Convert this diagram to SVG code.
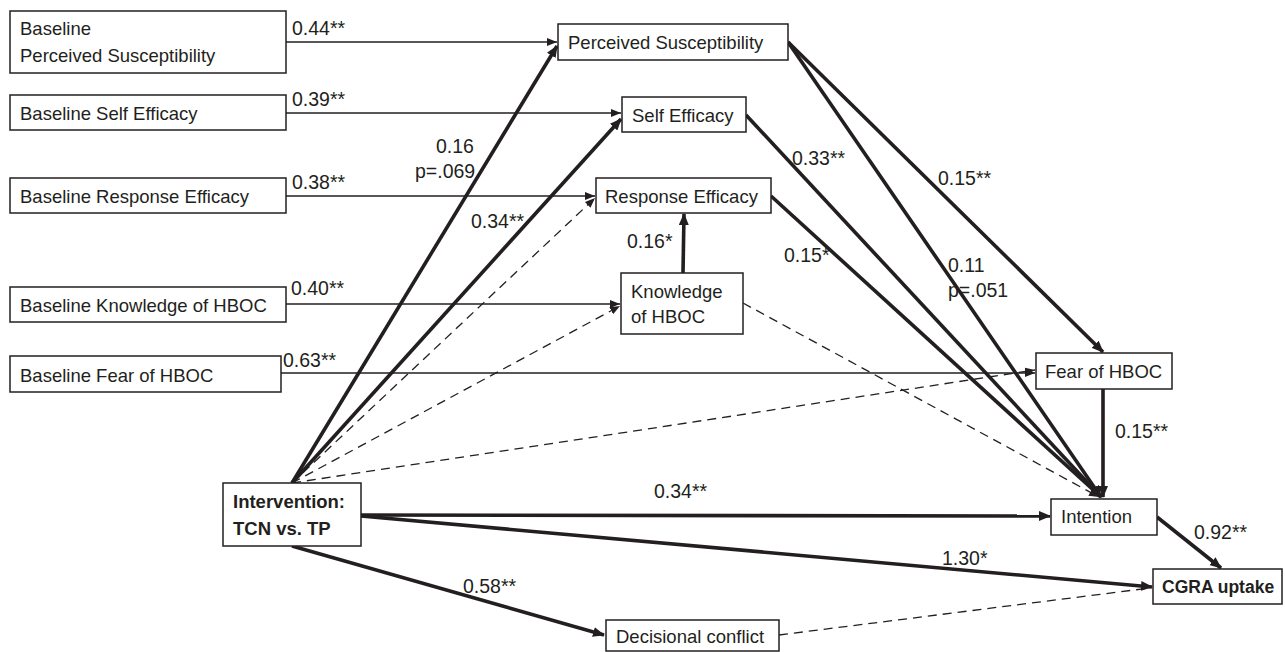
<svg xmlns="http://www.w3.org/2000/svg" width="1285" height="652" viewBox="0 0 1285 652">
<style>
.box{fill:#fff;stroke:#231f20;stroke-width:1.5}
.t{font-family:"Liberation Sans",Arial,sans-serif;font-size:18.5px;fill:#231f20}
.l{font-size:19.5px}
.b{font-weight:bold}
.thin{stroke:#231f20;stroke-width:1.5;fill:none}
.thick{stroke:#231f20;stroke-width:3.6;fill:none}
.dash{stroke:#231f20;stroke-width:1.3;fill:none;stroke-dasharray:9 6}
</style>
<defs>
<marker id="ah" markerUnits="userSpaceOnUse" markerWidth="10" markerHeight="8" refX="10" refY="4" orient="auto"><path d="M0,0 L10,4 L0,8 z" fill="#231f20"/></marker>
<marker id="ahk" markerUnits="userSpaceOnUse" markerWidth="12" markerHeight="10" refX="11" refY="5" orient="auto"><path d="M0,0 L12,5 L0,10 z" fill="#231f20"/></marker>
</defs>
<rect width="1285" height="652" fill="#fff"/>
<g id="connectors">
<line class="thin" x1="286" y1="42" x2="557" y2="42" marker-end="url(#ah)"/>
<line class="thin" x1="286" y1="113" x2="621" y2="113" marker-end="url(#ah)"/>
<line class="thin" x1="286" y1="196" x2="595" y2="196" marker-end="url(#ah)"/>
<line class="thin" x1="286" y1="304" x2="620" y2="304" marker-end="url(#ah)"/>
<line class="thin" x1="281" y1="373" x2="1035" y2="373" marker-end="url(#ah)"/>
<line class="thick" x1="292" y1="483" x2="557" y2="46" marker-end="url(#ahk)"/>
<line class="thick" x1="292" y1="483" x2="621" y2="119" marker-end="url(#ahk)"/>
<line class="dash" x1="292" y1="483" x2="595" y2="198" marker-end="url(#ah)"/>
<line class="dash" x1="292" y1="483" x2="620" y2="306" marker-end="url(#ah)"/>
<line class="dash" x1="292" y1="483" x2="1035" y2="370" marker-end="url(#ah)"/>
<line class="thick" x1="683" y1="273" x2="684" y2="214" marker-end="url(#ahk)"/>
<line class="thick" x1="788" y1="42" x2="1103" y2="352" marker-end="url(#ahk)"/>
<line class="thick" x1="788" y1="42" x2="1101" y2="497" marker-end="url(#ahk)"/>
<line class="thick" x1="746" y1="115" x2="1101" y2="497" marker-end="url(#ahk)"/>
<line class="thick" x1="771" y1="196" x2="1101" y2="497" marker-end="url(#ahk)"/>
<line class="dash" x1="743" y1="303" x2="1099" y2="497" marker-end="url(#ah)"/>
<line class="thick" x1="1103" y1="389" x2="1103" y2="497" marker-end="url(#ahk)"/>
<line class="thick" x1="361" y1="515" x2="1050" y2="516" marker-end="url(#ahk)"/>
<line class="thick" x1="361" y1="516" x2="1152" y2="587" marker-end="url(#ahk)"/>
<line class="thick" x1="292" y1="546" x2="604" y2="635" marker-end="url(#ahk)"/>
<line class="thick" x1="1157" y1="517" x2="1221" y2="568" marker-end="url(#ahk)"/>
<line class="dash" x1="779" y1="635" x2="1150" y2="588"/>
</g>
<g id="labels">
<text class="t l" x="292" y="35">0.44**</text>
<text class="t l" x="292" y="106">0.39**</text>
<text class="t l" x="292" y="189">0.38**</text>
<text class="t l" x="291" y="295">0.40**</text>
<text class="t l" x="283" y="367">0.63**</text>
<text class="t l" x="436" y="153">0.16</text>
<text class="t l" x="415" y="178">p=.069</text>
<text class="t l" x="471" y="228">0.34**</text>
<text class="t l" x="627" y="248">0.16*</text>
<text class="t l" x="792" y="165">0.33**</text>
<text class="t l" x="938" y="185">0.15**</text>
<text class="t l" x="784" y="262">0.15*</text>
<text class="t l" x="948" y="272">0.11</text>
<text class="t l" x="948" y="297">p=.051</text>
<text class="t l" x="1115" y="438">0.15**</text>
<text class="t l" x="654" y="498">0.34**</text>
<text class="t l" x="942" y="565">1.30*</text>
<text class="t l" x="463" y="593">0.58**</text>
<text class="t l" x="1194" y="539">0.92**</text>
</g>
<g id="n-bps"><rect class="box" x="10" y="11" width="276" height="62"/><text class="t" x="20" y="35">Baseline</text><text class="t" x="20" y="62">Perceived Susceptibility</text></g>
<g id="n-bse"><rect class="box" x="10" y="95" width="276" height="35"/><text class="t" x="20" y="120">Baseline Self Efficacy</text></g>
<g id="n-bre"><rect class="box" x="10" y="178" width="276" height="35"/><text class="t" x="20" y="203">Baseline Response Efficacy</text></g>
<g id="n-bk"><rect class="box" x="10" y="287" width="276" height="35"/><text class="t" x="20" y="312">Baseline Knowledge of HBOC</text></g>
<g id="n-bf"><rect class="box" x="10" y="356" width="271" height="36"/><text class="t" x="20" y="382">Baseline Fear of HBOC</text></g>
<g id="n-ps"><rect class="box" x="558" y="24" width="230" height="36"/><text class="t" x="568" y="49">Perceived Susceptibility</text></g>
<g id="n-se"><rect class="box" x="622" y="97" width="124" height="35"/><text class="t" x="632" y="122">Self Efficacy</text></g>
<g id="n-re"><rect class="box" x="596" y="178" width="175" height="35"/><text class="t" x="605" y="203">Response Efficacy</text></g>
<g id="n-k"><rect class="box" x="621" y="273" width="122" height="61"/><text class="t" x="631" y="298">Knowledge</text><text class="t" x="631" y="323">of HBOC</text></g>
<g id="n-f"><rect class="box" x="1036" y="353" width="136" height="36"/><text class="t" x="1045" y="378">Fear of HBOC</text></g>
<g id="n-i"><rect class="box" x="223" y="483" width="138" height="63"/><text class="t b" x="233" y="508">Intervention:</text><text class="t b" x="233" y="535">TCN vs. TP</text></g>
<g id="n-int"><rect class="box" x="1051" y="499" width="106" height="36"/><text class="t" x="1061" y="523">Intention</text></g>
<g id="n-cgra"><rect class="box" x="1153" y="569" width="129" height="35"/><text class="t b" x="1162" y="593" style="font-size:17.5px">CGRA uptake</text></g>
<g id="n-dc"><rect class="box" x="606" y="620" width="173" height="31"/><text class="t" x="616" y="643">Decisional conflict</text></g>
</svg>
